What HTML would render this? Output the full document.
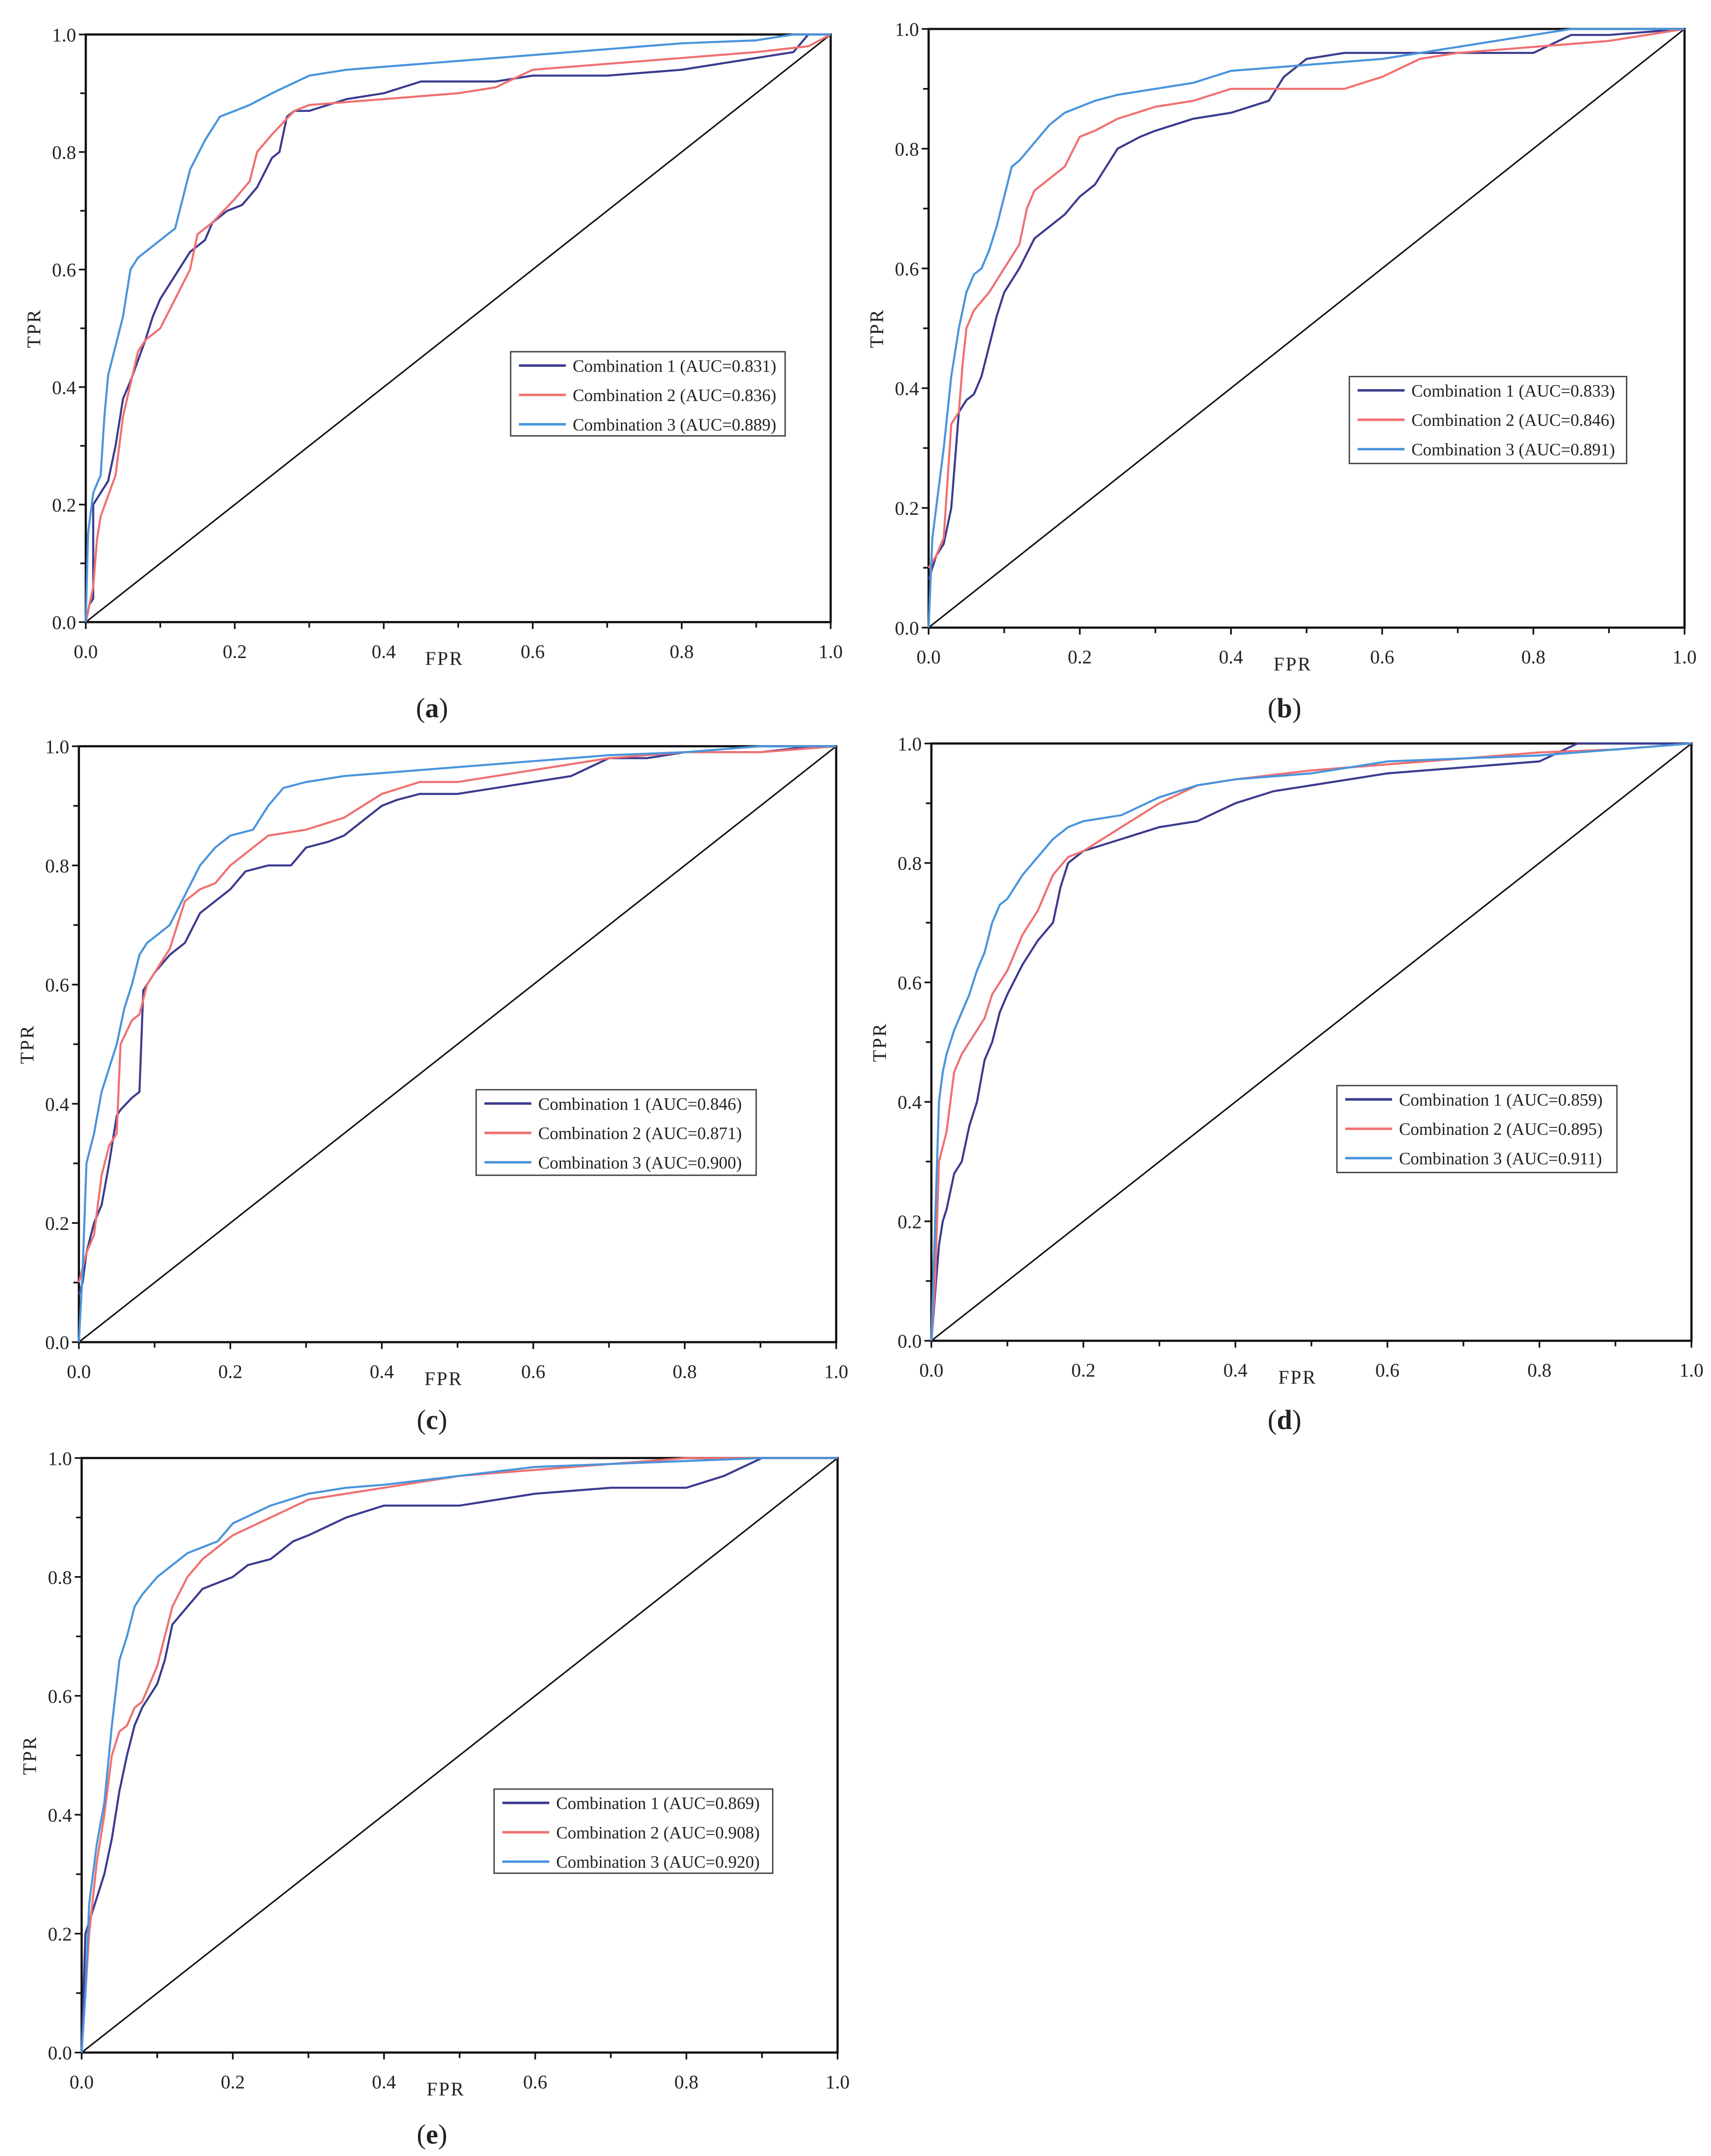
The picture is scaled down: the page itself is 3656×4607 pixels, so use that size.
<!DOCTYPE html>
<html><head><meta charset="utf-8"><style>
html,body{margin:0;padding:0;background:#fff;}
svg{display:block;}
text{font-family:"Liberation Serif",serif;fill:#222;}
</style></head><body>
<svg id="fig" xmlns="http://www.w3.org/2000/svg" width="3656" height="4607" viewBox="0 0 1240 1563"></svg>
<script>
// ---- data (fpr / tpr arrays per panel & series) ----
const panelIds = ['a','b','c','d','e'];
const seriesNames = ['Combination 1','Combination 2','Combination 3'];
const aucA = ['0.831','0.836','0.889'];
const aucB = ['0.833','0.846','0.891'];
const aucC = ['0.846','0.871','0.900'];
const aucD = ['0.859','0.895','0.911'];
const aucE = ['0.869','0.908','0.920'];
const tickLabels = ['0.0','0.2','0.4','0.6','0.8','1.0'];
const tickValues = [0,0.2,0.4,0.6,0.8,1];

const a1x=[0,0.005,0.01,0.01,0.02,0.03,0.04,0.05,0.06,0.08,0.09,0.1,0.12,0.14,0.16,0.17,0.19,0.21,0.23,0.25,0.26,0.27,0.28,0.3,0.35,0.4,0.45,0.5,0.55,0.6,0.7,0.8,0.9,0.95,0.97,1];
const a1y=[0,0.03,0.04,0.2,0.22,0.24,0.3,0.38,0.41,0.48,0.52,0.55,0.59,0.63,0.65,0.68,0.7,0.71,0.74,0.79,0.8,0.86,0.87,0.87,0.89,0.9,0.92,0.92,0.92,0.93,0.93,0.94,0.96,0.97,1,1];
const a2x=[0,0.01,0.015,0.02,0.04,0.05,0.07,0.08,0.1,0.12,0.14,0.15,0.17,0.2,0.22,0.23,0.25,0.28,0.3,0.4,0.5,0.55,0.6,0.7,0.8,0.9,0.97,1];
const a2y=[0,0.06,0.14,0.18,0.25,0.35,0.46,0.48,0.5,0.55,0.6,0.66,0.68,0.72,0.75,0.8,0.83,0.87,0.88,0.89,0.9,0.91,0.94,0.95,0.96,0.97,0.98,1];
const a3x=[0,0.003,0.01,0.02,0.025,0.03,0.04,0.05,0.06,0.07,0.08,0.1,0.12,0.13,0.14,0.16,0.18,0.2,0.22,0.25,0.3,0.35,0.4,0.5,0.6,0.7,0.8,0.9,0.95,1];
const a3y=[0,0.15,0.22,0.25,0.35,0.42,0.47,0.52,0.6,0.62,0.63,0.65,0.67,0.72,0.77,0.82,0.86,0.87,0.88,0.9,0.93,0.94,0.945,0.955,0.965,0.975,0.985,0.99,1,1];

const b1x=[0,0.01,0.02,0.03,0.04,0.05,0.06,0.07,0.08,0.09,0.1,0.12,0.14,0.16,0.18,0.2,0.22,0.25,0.28,0.3,0.35,0.4,0.45,0.47,0.5,0.55,0.6,0.7,0.8,0.85,0.9,1];
const b1y=[0.08,0.12,0.14,0.2,0.36,0.38,0.39,0.42,0.47,0.52,0.56,0.6,0.65,0.67,0.69,0.72,0.74,0.8,0.82,0.83,0.85,0.86,0.88,0.92,0.95,0.96,0.96,0.96,0.96,0.99,0.99,1];
const b2x=[0,0.01,0.02,0.03,0.04,0.045,0.05,0.06,0.08,0.1,0.12,0.13,0.14,0.16,0.18,0.2,0.22,0.25,0.3,0.35,0.4,0.5,0.55,0.6,0.65,0.7,0.8,0.9,1];
const b2y=[0.1,0.12,0.15,0.34,0.36,0.44,0.5,0.53,0.56,0.6,0.64,0.7,0.73,0.75,0.77,0.82,0.83,0.85,0.87,0.88,0.9,0.9,0.9,0.92,0.95,0.96,0.97,0.98,1];
const b3x=[0,0.005,0.01,0.02,0.03,0.04,0.05,0.06,0.07,0.08,0.09,0.1,0.11,0.12,0.14,0.16,0.18,0.2,0.22,0.25,0.3,0.35,0.4,0.5,0.6,0.7,0.8,0.85,1];
const b3y=[0,0.15,0.2,0.3,0.42,0.5,0.56,0.59,0.6,0.63,0.67,0.72,0.77,0.78,0.81,0.84,0.86,0.87,0.88,0.89,0.9,0.91,0.93,0.94,0.95,0.97,0.99,1,1];

const c1x=[0,0.005,0.01,0.02,0.03,0.04,0.05,0.055,0.07,0.08,0.085,0.1,0.12,0.14,0.16,0.18,0.2,0.22,0.25,0.28,0.3,0.33,0.35,0.38,0.4,0.42,0.45,0.5,0.55,0.6,0.65,0.7,0.75,0.8,0.9,0.97,1];
const c1y=[0.08,0.1,0.15,0.2,0.23,0.3,0.38,0.39,0.41,0.42,0.59,0.62,0.65,0.67,0.72,0.74,0.76,0.79,0.8,0.8,0.83,0.84,0.85,0.88,0.9,0.91,0.92,0.92,0.93,0.94,0.95,0.98,0.98,0.99,0.99,1,1];
const c2x=[0,0.01,0.02,0.03,0.04,0.05,0.055,0.07,0.08,0.09,0.1,0.12,0.14,0.16,0.18,0.2,0.22,0.25,0.3,0.35,0.4,0.45,0.5,0.55,0.6,0.65,0.7,0.8,0.9,1];
const c2y=[0.1,0.15,0.18,0.28,0.33,0.35,0.5,0.54,0.55,0.6,0.62,0.66,0.74,0.76,0.77,0.8,0.82,0.85,0.86,0.88,0.92,0.94,0.94,0.95,0.96,0.97,0.98,0.99,0.99,1];
const c3x=[0,0.005,0.01,0.02,0.03,0.04,0.05,0.06,0.07,0.08,0.09,0.1,0.12,0.14,0.16,0.18,0.2,0.23,0.25,0.27,0.3,0.35,0.4,0.5,0.6,0.7,0.8,0.9,1];
const c3y=[0,0.12,0.3,0.35,0.42,0.46,0.5,0.56,0.6,0.65,0.67,0.68,0.7,0.75,0.8,0.83,0.85,0.86,0.9,0.93,0.94,0.95,0.955,0.965,0.975,0.985,0.99,1,1];

const d1x=[0,0.005,0.01,0.015,0.02,0.03,0.04,0.05,0.06,0.07,0.08,0.09,0.1,0.12,0.14,0.16,0.17,0.18,0.2,0.25,0.3,0.35,0.4,0.45,0.5,0.55,0.6,0.7,0.8,0.85,1];
const d1y=[0,0.08,0.16,0.2,0.22,0.28,0.3,0.36,0.4,0.47,0.5,0.55,0.58,0.63,0.67,0.7,0.76,0.8,0.82,0.84,0.86,0.87,0.9,0.92,0.93,0.94,0.95,0.96,0.97,1,1];
const d2x=[0,0.005,0.01,0.02,0.03,0.04,0.05,0.06,0.07,0.08,0.1,0.12,0.14,0.16,0.18,0.2,0.25,0.3,0.35,0.4,0.5,0.6,0.7,0.8,0.9,1];
const d2y=[0,0.1,0.3,0.35,0.45,0.48,0.5,0.52,0.54,0.58,0.62,0.68,0.72,0.78,0.81,0.82,0.86,0.9,0.93,0.94,0.955,0.965,0.975,0.985,0.99,1];
const d3x=[0,0.005,0.01,0.015,0.02,0.03,0.04,0.05,0.06,0.07,0.08,0.09,0.1,0.12,0.14,0.16,0.18,0.2,0.25,0.3,0.35,0.4,0.5,0.6,0.7,0.8,0.9,1];
const d3y=[0,0.2,0.4,0.45,0.48,0.52,0.55,0.58,0.62,0.65,0.7,0.73,0.74,0.78,0.81,0.84,0.86,0.87,0.88,0.91,0.93,0.94,0.95,0.97,0.975,0.98,0.99,1];

const e1x=[0,0.005,0.01,0.02,0.03,0.04,0.05,0.06,0.07,0.08,0.09,0.1,0.11,0.12,0.14,0.16,0.18,0.2,0.22,0.25,0.28,0.3,0.35,0.4,0.5,0.55,0.6,0.7,0.8,0.85,0.9,1];
const e1y=[0,0.2,0.22,0.26,0.3,0.36,0.44,0.5,0.55,0.58,0.6,0.62,0.66,0.72,0.75,0.78,0.79,0.8,0.82,0.83,0.86,0.87,0.9,0.92,0.92,0.93,0.94,0.95,0.95,0.97,1,1];
const e2x=[0,0.005,0.01,0.02,0.03,0.04,0.05,0.06,0.07,0.08,0.1,0.12,0.14,0.16,0.18,0.2,0.25,0.3,0.4,0.5,0.6,0.7,0.8,0.9,1];
const e2y=[0,0.1,0.2,0.32,0.4,0.5,0.54,0.55,0.58,0.59,0.65,0.75,0.8,0.83,0.85,0.87,0.9,0.93,0.95,0.97,0.98,0.99,1,1,1];
const e3x=[0,0.005,0.01,0.02,0.03,0.04,0.05,0.06,0.07,0.08,0.1,0.12,0.14,0.16,0.18,0.2,0.25,0.3,0.35,0.4,0.5,0.6,0.7,0.8,0.9,1];
const e3y=[0,0.1,0.25,0.35,0.42,0.55,0.66,0.7,0.75,0.77,0.8,0.82,0.84,0.85,0.86,0.89,0.92,0.94,0.95,0.955,0.97,0.985,0.99,0.995,1,1];

// ---- layout ----
const NS='http://www.w3.org/2000/svg';
const svg=document.getElementById('fig');
const colors=['#3b3b8f','#f07070','#4a94dc'];
const panels=[
 {id:'a',x0:62,x1:602,y0:25,y1:451,lg:[370,255,199,61],auc:aucA,xs:[a1x,a2x,a3x],ys:[a1y,a2y,a3y],lab:[313,513]},
 {id:'b',x0:673,x1:1221,y0:21,y1:455,lg:[978,273,201,63],auc:aucB,xs:[b1x,b2x,b3x],ys:[b1y,b2y,b3y],lab:[931,513]},
 {id:'c',x0:57,x1:606,y0:541,y1:973,lg:[345,790,203,62],auc:aucC,xs:[c1x,c2x,c3x],ys:[c1y,c2y,c3y],lab:[313,1029]},
 {id:'d',x0:675,x1:1226,y0:539,y1:972,lg:[969,787,203,63],auc:aucD,xs:[d1x,d2x,d3x],ys:[d1y,d2y,d3y],lab:[931,1029]},
 {id:'e',x0:59,x1:607,y0:1057,y1:1488,lg:[358,1297,202,61],auc:aucE,xs:[e1x,e2x,e3x],ys:[e1y,e2y,e3y],lab:[313,1547]}
];
function mk(tag,attrs,parent){const e=document.createElementNS(NS,tag);for(const k in attrs)e.setAttribute(k,attrs[k]);(parent||svg).appendChild(e);return e;}

panels.forEach(p=>{
  const g=mk('g',{});
  
  
  const sx=v=>p.x0+v*(p.x1-p.x0);
  const sy=v=>p.y1-v*(p.y1-p.y0);
  // frame
  const fr=mk('rect',{x:p.x0,y:p.y0,width:p.x1-p.x0,height:p.y1-p.y0,fill:'none',stroke:'#111','stroke-width':1.6},g);
  
  
  // minor/major ticks
  for(let i=0;i<=10;i++){
    const v=i/10;
    mk('line',{x1:p.x0,x2:p.x0-(i%2?4:5),y1:sy(v),y2:sy(v),stroke:'#111','stroke-width':1.2},g);
    mk('line',{x1:sx(v),x2:sx(v),y1:p.y1,y2:p.y1+(i%2?4:5),stroke:'#111','stroke-width':1.2},g);
  }
  tickValues.forEach((v,i)=>{
    const ty=mk('text',{x:p.x0-7,y:sy(v)+5,'font-size':14,'text-anchor':'end'},g);
    ty.textContent=tickLabels[i];
    
    
    const tx=mk('text',{x:sx(v),y:p.y1+26,'font-size':14,'text-anchor':'middle'},g);
    tx.textContent=tickLabels[i];
    
    
  });
  const xt=mk('text',{x:sx(0.5)-10,y:p.y1+31,'font-size':14,'text-anchor':'middle','letter-spacing':1},g);
  xt.textContent='FPR';
  
  
  const yt=mk('text',{x:0,y:0,'font-size':14,'text-anchor':'middle','letter-spacing':1,transform:`translate(${p.x0-33},${sy(0.5)}) rotate(-90)`},g);
  yt.textContent='TPR';
  
  
  // diagonal
  const dg=mk('line',{x1:sx(0),y1:sy(0),x2:sx(1),y2:sy(1),stroke:'#111','stroke-width':1.1},g);
  
  
  // series
  [0,1,2].forEach(s=>{
    const xs=p.xs[s],ys=p.ys[s];
    const pts=xs.map((x,i)=>sx(x).toFixed(2)+','+sy(ys[i]).toFixed(2)).join(' ');
    const pl=mk('polyline',{points:pts,fill:'none',stroke:colors[s],'stroke-width':1.5,'stroke-linejoin':'round'},g);
    
    
  });
  // legend
  const [lx,ly,lw,lh]=p.lg;
  const lgG=mk('g',{},g);
  
  
  mk('rect',{x:lx,y:ly,width:lw,height:lh,fill:'#fff',stroke:'#444','stroke-width':1},lgG);
  [0,1,2].forEach(s=>{
    const cy=ly+10+s*21.3;
    const ln=mk('line',{x1:lx+6,x2:lx+40,y1:cy,y2:cy,stroke:colors[s],'stroke-width':1.8},lgG);
    
    
    const t=mk('text',{x:lx+45,y:cy+4.5,'font-size':12.5},lgG);
    t.textContent=seriesNames[s]+' (AUC='+p.auc[s]+')';
    
    
  });
  const lab=mk('text',{x:p.lab[0],y:p.lab[1]+7,'font-size':20,'text-anchor':'middle'},g);
  lab.innerHTML='(<tspan font-weight="bold">'+p.id+'</tspan>)';
  
  
});
</script>
</body></html>
